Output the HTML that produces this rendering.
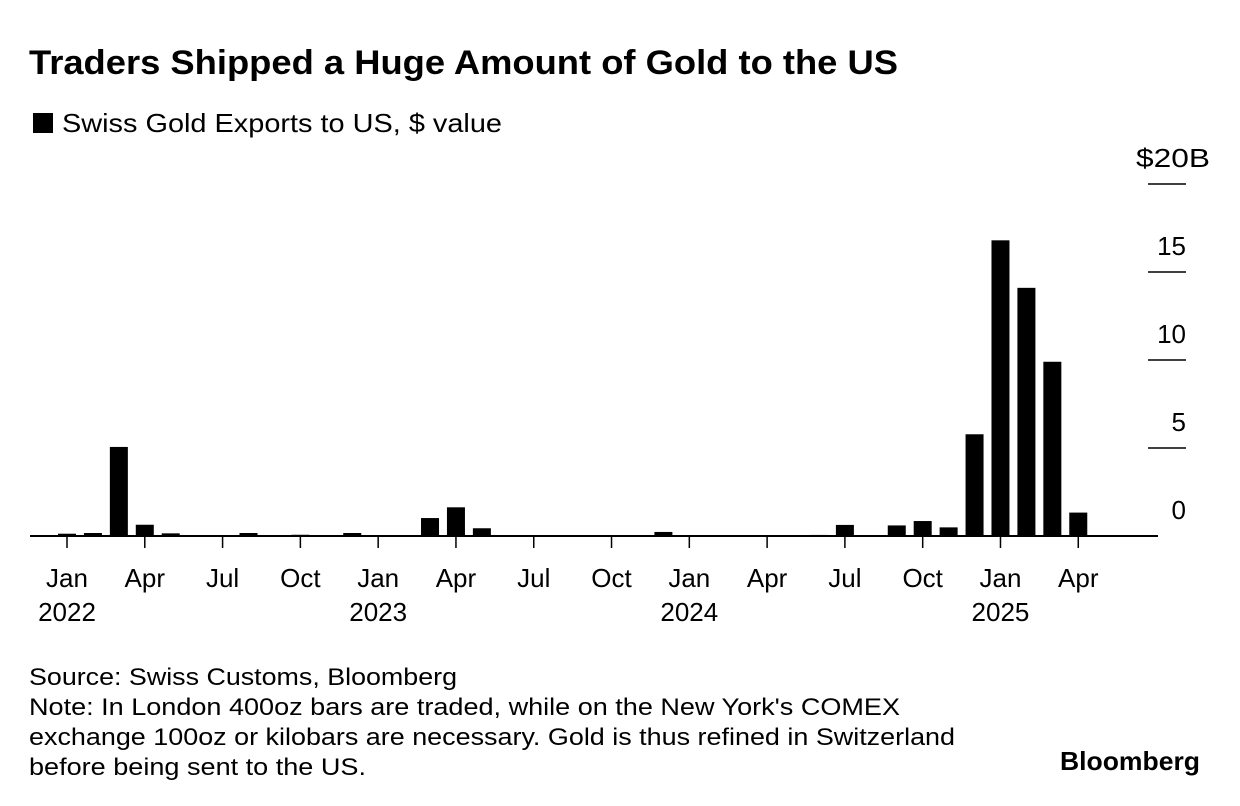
<!DOCTYPE html>
<html><head><meta charset="utf-8"><style>
body{margin:0;background:#fff;width:1240px;height:806px;overflow:hidden;font-family:"Liberation Sans",Arial,sans-serif;color:#000}
</style></head><body>
<svg width="1240" height="806" style="position:absolute;left:0;top:0;font-family:'Liberation Sans',Arial,sans-serif">
<text x="29" y="74" font-size="34" font-weight="bold" textLength="869" lengthAdjust="spacingAndGlyphs">Traders Shipped a Huge Amount of Gold to the US</text>
<rect x="33" y="113" width="20" height="20" fill="#000"/>
<text x="62" y="132" font-size="26" textLength="440" lengthAdjust="spacingAndGlyphs">Swiss Gold Exports to US, $ value</text>
<g id="bars"></g>
<g id="axes"></g>
<g font-size="24">
<text x="29" y="685" textLength="428" lengthAdjust="spacingAndGlyphs">Source: Swiss Customs, Bloomberg</text>
<text x="29" y="715" textLength="871" lengthAdjust="spacingAndGlyphs">Note: In London 400oz bars are traded, while on the New York's COMEX</text>
<text x="29" y="745" textLength="926" lengthAdjust="spacingAndGlyphs">exchange 100oz or kilobars are necessary. Gold is thus refined in Switzerland</text>
<text x="29" y="775" textLength="337" lengthAdjust="spacingAndGlyphs">before being sent to the US.</text>
</g>
<text x="1060" y="770" font-size="26" font-weight="bold" textLength="140" lengthAdjust="spacingAndGlyphs">Bloomberg</text>
</svg>
<script>
const months = ["2022-01","2022-02","2022-03","2022-04","2022-05","2022-06","2022-07","2022-08","2022-09","2022-10","2022-11","2022-12","2023-01","2023-02","2023-03","2023-04","2023-05","2023-06","2023-07","2023-08","2023-09","2023-10","2023-11","2023-12","2024-01","2024-02","2024-03","2024-04","2024-05","2024-06","2024-07","2024-08","2024-09","2024-10","2024-11","2024-12","2025-01","2025-02","2025-03","2025-04"];
const values = [0.13,0.17,5.06,0.64,0.15,0.03,0.03,0.17,0.03,0.07,0.04,0.17,0.03,0.05,1.02,1.63,0.44,0.03,0.03,0.03,0.03,0.03,0.03,0.23,0.05,0.03,0.03,0.03,0.04,0.06,0.63,0.03,0.6,0.85,0.49,5.78,16.8,14.1,9.9,1.33];
const yTicks = [0,5,10,15,20];
const yTickLabels = ["0","5","10","15","$20B"];
const xTickIdx = [0,3,6,9,12,15,18,21,24,27,30,33,36,39];
const xTickLabels = ["Jan","Apr","Jul","Oct","Jan","Apr","Jul","Oct","Jan","Apr","Jul","Oct","Jan","Apr"];
const yearIdx = [0,12,24,36];
const yearLabels = ["2022","2023","2024","2025"];

const NS="http://www.w3.org/2000/svg";
const x0=67, step=25.93, base=536, pxPer=17.6, bw=18;
const xs=i=>x0+i*step;
const ys=v=>base-v*pxPer;
function mk(tag,attrs,parent,txt){const e=document.createElementNS(NS,tag);for(const k in attrs)e.setAttribute(k,attrs[k]);if(txt!=null)e.textContent=txt;parent.appendChild(e);return e;}
const bars=document.getElementById('bars'), axes=document.getElementById('axes');
values.forEach((v,i)=>{
  const r=mk('rect',{x:xs(i)-bw/2,y:ys(v),width:bw,height:base-ys(v),fill:'#000'},bars);
  
  
});
const bl=mk('line',{x1:30,x2:1158,y1:base,y2:base,stroke:'#000','stroke-width':2},axes);


yTicks.forEach((t,i)=>{
  const y=ys(t);
  if(t>0){const l=mk('line',{x1:1148,x2:1186,y1:y,y2:y,stroke:'#000','stroke-width':1.5},axes);
  
  }
  const attrs={x:t===20?1210:1186,y:y-17,'font-size':26,'text-anchor':'end'};
  if(t===20){attrs.textLength=74;attrs.lengthAdjust='spacingAndGlyphs';}
  const tx=mk('text',attrs,axes,yTickLabels[i]);
  
  
});
xTickIdx.forEach((idx,i)=>{
  const x=xs(idx);
  const l=mk('line',{x1:x,x2:x,y1:base,y2:base+12,stroke:'#000','stroke-width':1.5},axes);
  
  
  const t=mk('text',{x:x,y:587,'font-size':26,'text-anchor':'middle'},axes,xTickLabels[i]);
  
  
});
yearIdx.forEach((idx,i)=>{
  const t=mk('text',{x:xs(idx),y:621,'font-size':26,'text-anchor':'middle'},axes,yearLabels[i]);
  
  
});
</script>
</body></html>
